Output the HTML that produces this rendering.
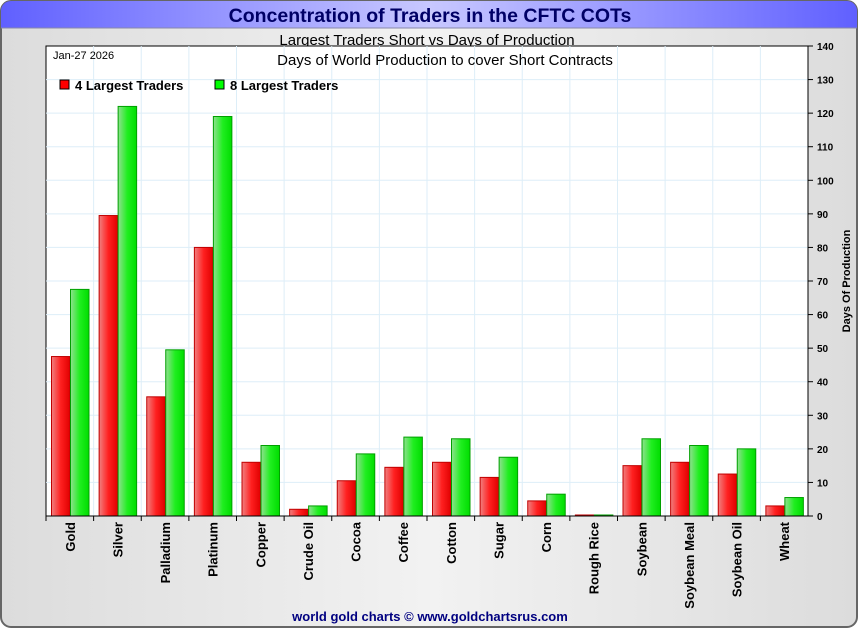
<!DOCTYPE html>
<html><head><meta charset="utf-8"><style>
body{margin:0;width:860px;height:630px;overflow:hidden;background:#fff;font-family:"Liberation Sans",sans-serif}
</style></head><body>
<svg width="860" height="630" xmlns="http://www.w3.org/2000/svg">
<defs>
<linearGradient id="bg" x1="0" x2="1"><stop offset="0" stop-color="#dcdcdc"/><stop offset="0.5" stop-color="#f2f2f2"/><stop offset="1" stop-color="#dcdcdc"/></linearGradient>
<linearGradient id="tb" x1="0" x2="1"><stop offset="0" stop-color="#6060ff"/><stop offset="0.5" stop-color="#c8c8ff"/><stop offset="1" stop-color="#6060ff"/></linearGradient>
<linearGradient id="rg" x1="0" x2="1"><stop offset="0" stop-color="#f08080"/><stop offset="0.5" stop-color="#ff2020"/><stop offset="1" stop-color="#e00000"/></linearGradient>
<linearGradient id="gg" x1="0" x2="1"><stop offset="0" stop-color="#90e090"/><stop offset="0.5" stop-color="#20ee20"/><stop offset="1" stop-color="#00dd00"/></linearGradient>
</defs>
<rect x="1" y="1" width="856" height="626" rx="10" fill="url(#bg)" stroke="#666" stroke-width="2"/>
<path d="M1,28 V11 A10,10 0 0 1 11,1 H847 A10,10 0 0 1 857,11 V28 Z" fill="url(#tb)"/>
<line x1="1" y1="28" x2="857" y2="28" stroke="#8888aa"/>
<text x="430" y="22" text-anchor="middle" font-size="19.5" font-weight="bold" fill="#000066">Concentration of Traders in the CFTC COTs</text>
<text x="427" y="45" text-anchor="middle" font-size="15">Largest Traders Short vs Days of Production</text>
<rect x="46" y="46" width="762" height="470" fill="#fff" stroke="#000"/>
<g id="grid"></g>
<text x="445" y="65" text-anchor="middle" font-size="15">Days of World Production to cover Short Contracts</text>
<text x="53" y="59" font-size="11">Jan-27  2026</text>
<rect x="60" y="80" width="9" height="9" fill="#f00" stroke="#000"/>
<text x="75" y="90" font-size="13" font-weight="bold">4 Largest Traders</text>
<rect x="215" y="80" width="9" height="9" fill="#0f0" stroke="#000"/>
<text x="230" y="90" font-size="13" font-weight="bold">8 Largest Traders</text>
<g id="bars"></g>
<g id="axes"></g>
<text transform="translate(850,281) rotate(-90)" text-anchor="middle" font-size="11" font-weight="bold">Days Of Production</text>
<text x="430" y="621" text-anchor="middle" font-size="13" font-weight="bold" fill="#000080">world gold charts © www.goldchartsrus.com</text>
</svg>
<script>
const categories=["Gold","Silver","Palladium","Platinum","Copper","Crude Oil","Cocoa","Coffee","Cotton","Sugar","Corn","Rough Rice","Soybean","Soybean Meal","Soybean Oil","Wheat"];
const top4=[47.5,89.5,35.5,80,16,2,10.5,14.5,16,11.5,4.5,0.3,15,16,12.5,3];
const top8=[67.5,122,49.5,119,21,3,18.5,23.5,23,17.5,6.5,0.3,23,21,20,5.5];
const yTicks=[0,10,20,30,40,50,60,70,80,90,100,110,120,130,140];
const NS="http://www.w3.org/2000/svg";
const L=46,R=808,T=46,B=516,yMax=140;
const bw=(R-L)/categories.length;
const y=v=>B-(v/yMax)*(B-T);
const x=i=>L+i*bw;
function mk(t,a,p){const e=document.createElementNS(NS,t);for(const k in a)e.setAttribute(k,a[k]);p.appendChild(e);return e;}
const grid=document.getElementById('grid'),bars=document.getElementById('bars'),axes=document.getElementById('axes');
yTicks.forEach(v=>{
 if(v>0&&v<yMax){const g=mk('line',{x1:L,x2:R,y1:y(v),y2:y(v),stroke:'#ddeef8'},grid);
 
 }
 const tk=mk('line',{x1:R,x2:R+5,y1:y(v),y2:y(v),stroke:'#000'},axes);
 
 
 const t=mk('text',{x:R+9,y:y(v)+4,'font-size':'10','font-weight':'bold'},axes);t.textContent=v;
 
 
});
categories.forEach((c,i)=>{
 if(i>0){const g=mk('line',{x1:x(i),x2:x(i),y1:T,y2:B,stroke:'#ddeef8'},grid);
 
 }
 const w=18.5;
 const r=mk('rect',{x:x(i)+5.5,y:y(top4[i]),width:w,height:B-y(top4[i]),fill:'url(#rg)',stroke:'#c00000','stroke-width':'1'},bars);
 
 
 const g=mk('rect',{x:x(i)+5.5+w+0.5,y:y(top8[i]),width:w,height:B-y(top8[i]),fill:'url(#gg)',stroke:'#00a000','stroke-width':'1'},bars);
 
 
 const tk=mk('line',{x1:x(i),x2:x(i),y1:B,y2:B+5,stroke:'#000'},axes);
 
 
 const cx=x(i)+bw/2+5;
 const t=mk('text',{transform:`translate(${cx},${B+6}) rotate(-90)`,'text-anchor':'end','font-size':'13','font-weight':'bold'},axes);t.textContent=c;
 
 
});
const ax=mk('line',{x1:R,x2:R,y1:T,y2:B,stroke:'#000'},axes);


const bx=mk('line',{x1:L,x2:R,y1:B,y2:B,stroke:'#000'},axes);


</script>
</body></html>
